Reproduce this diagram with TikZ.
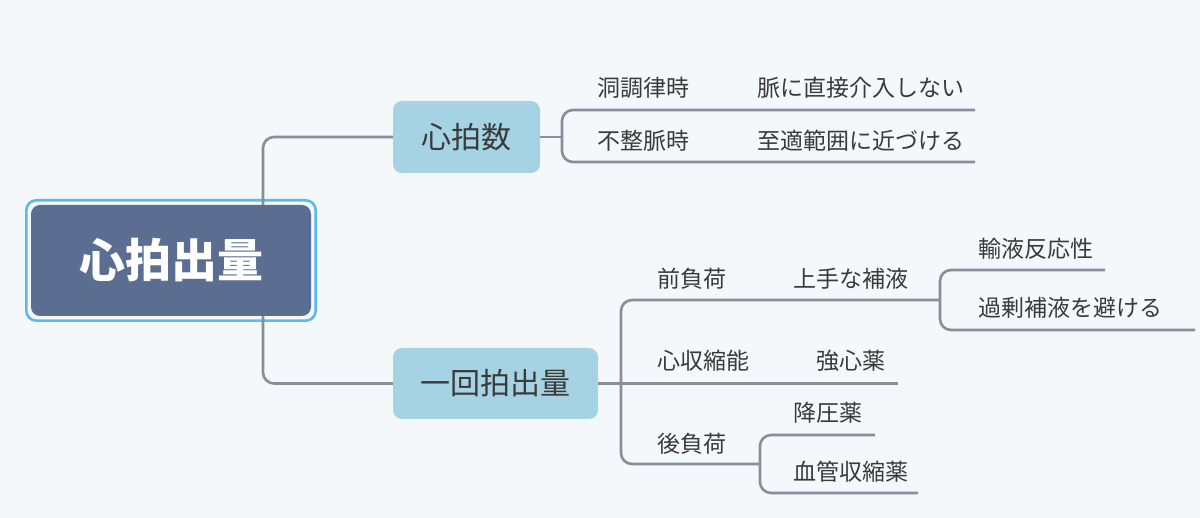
\documentclass[tikz,border=0pt]{standalone}
\usepackage{fontspec}
\usepackage{xcolor}
\usetikzlibrary{calc}
\newfontfamily\jpfont{Noto Sans CJK JP}
\definecolor{bgcol}{HTML}{F5F8FB}
\definecolor{rootfill}{HTML}{5B6E92}
\definecolor{rootring}{HTML}{5DB9EA}
\definecolor{topicfill}{HTML}{A6D3E4}
\definecolor{linegrey}{HTML}{878E9C}
\definecolor{textgrey}{HTML}{3A3A3A}
\tikzset{
  branch/.style={draw=linegrey, line width=2.6pt, rounded corners=11pt},
  leaf/.style={anchor=west, inner sep=0pt, text=textgrey, font=\jpfont\fontsize{23}{27}\selectfont},
  topic/.style={fill=topicfill, rounded corners=9pt, inner sep=0pt, text=textgrey, font=\jpfont\fontsize{30}{34}\selectfont},
  rootbox/.style={fill=rootfill, rounded corners=9pt, inner sep=0pt, minimum width=280pt, minimum height=111pt, text=white, font=\jpfont\bfseries\fontsize{46}{50}\selectfont},
  ring/.style={draw=rootring, line width=2.6pt, rounded corners=10pt}
}

\begin{document}
\begin{tikzpicture}[x=1pt, y=-1pt]
\fill[bgcol] (0,0) rectangle (1200,518);
\useasboundingbox (0,0) rectangle (1200,518);

% Centro
\node (root) at (171,260.5) [rootbox] {心拍出量};
\draw[ring] ($(root.north west)+(-4.5,-4.5)$) rectangle ($(root.south east)+(4.5,4.5)$);
\coordinate (rootaxis) at (263,0);
\node (hr) at (466.5,137) [topic, minimum width=147pt, minimum height=72pt] {心拍数};
\node (sv) at (495.5,383.5) [topic, minimum width=205pt, minimum height=71pt] {一回拍出量};
\draw[branch] (root.north -| rootaxis) |- (hr.west);
\draw[branch] (root.south -| rootaxis) |- (sv.west);

% Ramo superiore: 心拍数
\coordinate (hrfork) at (562,137);
\coordinate (sinus-r) at (975,110);
\coordinate (afib-r) at (975,162);
\draw[branch] (hr.east) -- (hrfork);
\draw[branch] (hrfork) |- (sinus-r);
\draw[branch] (hrfork) |- (afib-r);
\node (sinus) at (597,88) [leaf] {洞調律時};
\node (sinusact) at (757,88) [leaf] {脈に直接介入しない};
\node (afib) at (597,141) [leaf] {不整脈時};
\node (afibact) at (757,141) [leaf] {至適範囲に近づける};

% Ramo inferiore: 一回拍出量
\coordinate (svfork) at (621,383.5);
\coordinate (preload-r) at (940,300);
\coordinate (contract-r) at (898,383.5);
\coordinate (afterload-r) at (760,464);
\draw[branch] (sv.east) -- (svfork);
\draw[branch] (svfork) |- (preload-r);
\draw[branch] (svfork) -- (contract-r);
\draw[branch] (svfork) |- (afterload-r);
\node (preload) at (657,279) [leaf] {前負荷};
\node (fluid) at (793,279) [leaf] {上手な補液};
\node (contract) at (657,361) [leaf] {心収縮能};
\node (inotrope) at (816,361) [leaf] {強心薬};
\node (afterload) at (657,444) [leaf] {後負荷};

% 上手な補液
\coordinate (resp-r) at (1105,270);
\coordinate (excess-r) at (1195,330);
\draw[branch] (preload-r) |- (resp-r);
\draw[branch] (preload-r) |- (excess-r);
\node (resp) at (978,249) [leaf] {輸液反応性};
\node (excess) at (978,308) [leaf] {過剰補液を避ける};

% 後負荷
\coordinate (antihyp-r) at (875,435);
\coordinate (vaso-r) at (918,493);
\draw[branch] (afterload-r) |- (antihyp-r);
\draw[branch] (afterload-r) |- (vaso-r);
\node (antihyp) at (793,413) [leaf] {降圧薬};
\node (vaso) at (793,472) [leaf] {血管収縮薬};
\end{tikzpicture}
\end{document}
